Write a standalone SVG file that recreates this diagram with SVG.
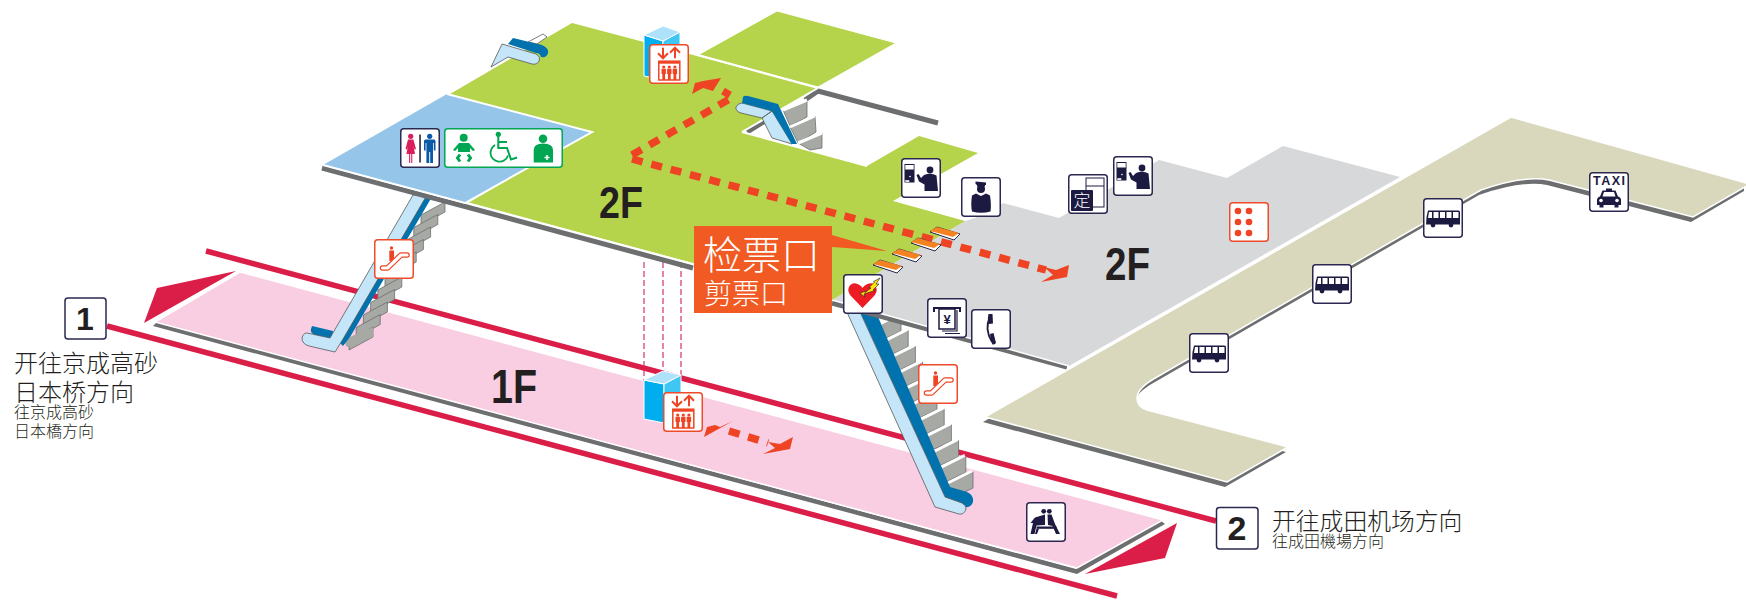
<svg xmlns="http://www.w3.org/2000/svg" width="1746" height="600" viewBox="0 0 1746 600">
<style>
text{font-family:"Noto Sans CJK SC","Liberation Sans",sans-serif;fill:#231f20;font-weight:300}
.flr{font-family:"Liberation Sans",sans-serif;font-weight:700;fill:#231f20}
.fr{fill:#fff;stroke:#2a2850;stroke-width:1.5}
.frr{fill:#fff;stroke:#ef4a2a;stroke-width:1.5}
.n{fill:#1c1a40}
.r{fill:#ef4423}
.g{fill:#00a651}
.rail{fill:none;stroke:#da1e48;stroke-width:5.5}
.edge{fill:none;stroke:#6d6e70;stroke-width:5}
.esL{fill:#c4e6f8;stroke:#58595b;stroke-width:.8}
.esD{fill:#0072ae}
.st{fill:#a7a9a4;stroke:#6d6e70;stroke-width:.8}
.tr{fill:none;stroke:#fff;stroke-width:3}
.dash{fill:none;stroke:#ef4423;stroke-width:7.5;stroke-dasharray:11 9}
.pd{fill:none;stroke:#d6336c;stroke-width:1.2;stroke-dasharray:6 3}
.wl{stroke:#fff;stroke-width:2}
</style>
<defs>
<rect id="frame" class="fr" x=".75" y=".75" width="38.5" height="38.5" rx="3"/>
<rect id="framer" class="frr" x=".75" y=".75" width="38.5" height="38.5" rx="3"/>
<g id="stepR"><polygon class="st" points="0,0 0,16 -25,28 -25,12"/><path class="tr" d="M-25,11L-1,-1"/></g>
<polygon id="stepL" class="st" points="0,0 0,10 -24,23 -24,13"/>
<g id="g-attend">
<use href="#frame"/>
<rect class="n" x="3.500" y="6" width="10" height="18.500"/>
<rect x="4.300" y="7" width="8.400" height="4.500" fill="#fff"/>
<rect x="4.300" y="22.200" width="4" height="1.700" fill="#fff"/>
<circle cx="9" cy="18.500" r=".8" fill="#fff"/>
<circle class="n" cx="29" cy="12" r="3.400"/>
<path class="n" d="M23,17Q30,14.500 35.500,17.500L37,33H23.500L23.500,26.500L18,23.500L15.500,17L17.500,16L20,20Z"/>
</g>
<g id="g-bus">
<use href="#frame"/>
<path class="n" d="M5,12.500H35.500Q37,12.500 37,14V26.500H3L3.500,19Z"/>
<path fill="#fff" d="M6,14H9V20H5ZM10.500,14H15.500V20H10.500ZM17,14H22V20H17ZM23.500,14H28.500V20H23.500ZM30,14H35.500V20H30Z"/>
<circle class="n" cx="10" cy="27" r="2.400"/><circle class="n" cx="28" cy="27" r="2.400"/>
</g>
<g id="g-elev">
<use href="#framer"/>
<path d="M14,3.700V14.300M9,9.300L14,14.300L19,9.300M26,14.300V3.700M21,8.700L26,3.700L31,8.700" fill="none" stroke="#ef4423" stroke-width="2"/>
<rect x="9.800" y="17.200" width="21" height="18.800" fill="#fff" stroke="#ef4423" stroke-width="1.500"/>
<rect class="r" x="9.800" y="17.200" width="21" height="2.500"/>
<g class="r">
<circle cx="14.700" cy="23" r="1.600"/><path d="M12.500,24.800H16.900V30H16.100V36H13.300V30H12.500Z"/>
<circle cx="20.300" cy="23" r="1.600"/><path d="M18.100,24.800H22.500V30H21.700V36H18.900V30H18.100Z"/>
<circle cx="25.900" cy="23" r="1.600"/><path d="M23.700,24.800H28.100V30H27.300V36H24.500V30H23.700Z"/>
</g>
</g>
<g id="g-esc">
<use href="#framer"/>
<circle class="r" cx="17.500" cy="9" r="1.700"/>
<path class="r" d="M15.300,11.500H20V19.500L17.500,22H15.300Z"/>
<path d="M8.500,29H13.500L27,16H33" fill="none" stroke="#ef4423" stroke-width="5.600" stroke-linecap="round" stroke-linejoin="round"/>
<path d="M8.500,29H13.500L27,16H33" fill="none" stroke="#fff" stroke-width="3.200" stroke-linecap="round" stroke-linejoin="round"/>
</g>
</defs>

<g id="connectors">
<path class="rail" d="M206,251L1216,521"/>
<path class="rail" d="M107,326L1117,596"/>
</g>

<g id="floor-1f">
<polygon points="153,326 1077,574 1165,524 1161,521 1076,569 157,322" fill="#6d6e70"/>
<polygon points="240,272 1163,520 1077,568 155,322" fill="#f9cde2" stroke="#fff" stroke-width="1.500"/>
<polygon points="236,271 157,288 144,323" fill="#da1e48"/>
<polygon points="1177,523 1165,558 1085,574" fill="#da1e48"/>
<text class="flr" x="491" y="403" font-size="48" textLength="46" lengthAdjust="spacingAndGlyphs" style="font-family:'Liberation Sans',sans-serif">1F</text>
</g>

<g id="elevator-shaft">
<path class="pd" d="M644,262V381M663,262V372M681,262V376"/>
</g>
<g id="elevator-1f-cube">
<polygon points="644,380 664,384 664,423 644,419" fill="#00aeef" stroke="#fff"/>
<polygon points="664,384 681,375 681,415 664,423" fill="#3fc6f5" stroke="#fff"/>
<polygon points="644,380 663,371 681,375 664,384" fill="#aee2fa" stroke="#fff"/>
</g>

<g id="escalator-left">
<use href="#stepL" x="445" y="202"/><use href="#stepL" x="437.800" y="214.500"/><use href="#stepL" x="430.600" y="227"/><use href="#stepL" x="423.400" y="239.500"/><use href="#stepL" x="416.200" y="252"/><use href="#stepL" x="409" y="264.500"/><use href="#stepL" x="401.800" y="277"/><use href="#stepL" x="394.600" y="289.500"/><use href="#stepL" x="387.400" y="302"/><use href="#stepL" x="380.200" y="314.500"/><use href="#stepL" x="373" y="327"/>
<polygon points="373,327 373,337 347,347 343,340" fill="#a7a9a4"/>
<path class="esD" d="M433,195L350,337L343,346L337,340L425,195ZM312,326L333,331L332,339L315,335Q310,333 311,329Z"/>
<path class="esL" d="M413,195L427,195L343,339L335,352L309,346Q302,344 302,338Q303,333 307,333L330,338Z"/>
</g>

<g id="escalator-right">
<use href="#stepR" x="901" y="315"/><use href="#stepR" x="908.200" y="330.700"/><use href="#stepR" x="915.400" y="346.400"/><use href="#stepR" x="922.600" y="362.100"/><use href="#stepR" x="929.800" y="377.800"/><use href="#stepR" x="937" y="393.500"/><use href="#stepR" x="944.200" y="409.200"/><use href="#stepR" x="951.400" y="424.900"/><use href="#stepR" x="958.600" y="440.600"/><use href="#stepR" x="965.800" y="456.300"/><use href="#stepR" x="973" y="472"/>
<path class="esD" d="M860,312H876L950,487L967,492Q974,495 973,502Q971,508 965,507L945,497Z"/>
<path class="esL" d="M846,310L860,312L945,497L962,503Q967,506 966,509Q964,515 959,514L935,507Z"/>
</g>

<g id="floor-2f-gray">
<path class="edge" d="M832,303L1067,367"/>
<polygon points="975,218 1003,203 1059,218 1159,160 1227,178 1283,146 1400,177 1069,366 832,300 965,221" fill="#d7d8da"/>
<path d="M832,300L1069,366" stroke="#fff" stroke-width="1.500" fill="none"/>
</g>

<g id="platform-beige">
<path transform="translate(-2,5)" fill="#6d6e70" d="M985,417L1511,117L1746,180V186L1693,217L1549,180Q1524,175 1481,190L1157,377Q1137,388 1137,398Q1137,407 1147,410L1288,447L1227,482Z"/>
<path fill="#d9d7bc" stroke="#fff" stroke-width="1.500" d="M985,417L1511,117L1750,184L1693,217L1549,180Q1524,175 1481,190L1157,377Q1137,388 1137,398Q1137,407 1147,410L1288,447L1227,482Z"/>
</g>

<g id="floor-2f-main">
<path class="edge" d="M322,168L693,268"/>
<path class="edge" d="M747,132L765,121M805,100L818,91L938,123"/>
<polygon points="572,23 818,88 742,132 867,166 919,136 978,153 893,201 965,221 832,300 468,203 588,133 450,94" fill="#b5d44c"/>
<polygon points="777,11 896,43 818,87 698,55" fill="#b5d44c" stroke="#fff" stroke-width="1"/>
<path class="wl" d="M698,55L818,88M742,132L867,166M818,88L742,132" fill="none"/>
<polygon points="323,165 447,94 592,132 465,203" fill="#95c6ea"/>
<path class="wl" d="M447,94L592,132L465,203L323,165" fill="none"/>
<path d="M468,203L693,264" stroke="#fff" stroke-width="1.500"/>
<text class="flr" x="599" y="218" font-size="44" textLength="44" lengthAdjust="spacingAndGlyphs" style="font-family:'Liberation Sans',sans-serif">2F</text>
<text class="flr" x="1105" y="280" font-size="46" textLength="45" lengthAdjust="spacingAndGlyphs" style="font-family:'Liberation Sans',sans-serif">2F</text>
</g>

<g id="escalator-top">
<polygon points="528,42 543,34 547,37 537,44" fill="#fff" stroke="#58595b" stroke-width=".8"/>
<path class="esD" d="M513,38L542,45Q549,48 548,53Q547,58 541,57Q540,53 536,53L508,44Z"/>
<path class="esL" d="M491,67L502,44L536,54Q541,57 539,61Q537,65 532,64L508,57Z"/>
</g>

<g id="escalator-middle">
<polygon class="st" points="783,110 807,100 807,117 790,126"/>
<polygon class="st" points="790,127 815,116 816,132 798,143"/>
<polygon class="st" points="798,143 822,133 822,148 810,150"/>
<path class="tr" d="M783,110L807,100M790,127L815,116M798,143L822,133M822,149L830,152"/>
<path class="esL" d="M762,118L772,111L792,144L772,138ZM742,103L772,111L762,118L741,113Q735,111 736,107Q738,103 742,103Z"/>
<path class="esD" d="M743,97Q744,95 748,96L778,104L797,144L792,144L772,111L742,103Z"/>
</g>

<g id="route-arrows">
<path class="dash" d="M632,155L733,97L723,91"/>
<polygon class="r" points="721,78 703,81 695,83 692,94 703,88 713,91"/>
<path class="dash" d="M632,159L1046,270"/>
<polygon class="r" points="1044,267 1056,270 1069,265 1067,277 1041,282 1053,275"/>
<polygon class="r" points="733,421 704,437 707,427 715,425 720,427"/>
<path class="dash" d="M729,431L768,443"/>
<polygon class="r" points="793,437 790,449 763,454 775,448 768,442 780,444"/>
</g>

<g id="gates">
<g id="gate-1"><polygon points="873,265 880,260 903,267 897,273" fill="#fff" stroke="#2a2850"/><polygon points="873,264 880,260 902,266 896,270" fill="#f58220"/></g>
<g id="gate-2"><polygon points="892,254 899,249 922,256 916,262" fill="#fff" stroke="#2a2850"/><polygon points="892,253 899,249 921,255 915,259" fill="#f58220"/></g>
<g id="gate-3"><polygon points="911,243 918,238 941,245 935,251" fill="#fff" stroke="#2a2850"/><polygon points="911,242 918,238 940,244 934,248" fill="#f58220"/></g>
<g id="gate-4"><polygon points="930,232 937,227 960,234 954,240" fill="#fff" stroke="#2a2850"/><polygon points="930,231 937,227 959,233 953,237" fill="#f58220"/></g>
</g>

<g id="ticket-gate-label">
<polygon points="694,226 832,226 832,235 887,251 832,247 832,313 694,313" fill="#f15a22"/>
<text x="703" y="269" font-size="39" style="fill:#fff">检票口</text>
<text x="704" y="304" font-size="28" style="fill:#fff">剪票口</text>
</g>

<g id="elevator-2f-cube">
<polygon points="644,35 663,41 663,80 644,76" fill="#00aeef" stroke="#fff"/>
<polygon points="663,41 680,32 680,60 663,80" fill="#3fc6f5" stroke="#fff"/>
<polygon points="644,35 663,26 680,32 663,41" fill="#aee2fa" stroke="#fff"/>
</g>

<g id="icon-wc" transform="translate(400,128)">
<use href="#frame"/>
<g fill="#da1e5b"><circle cx="10.700" cy="8.300" r="2.600"/><path d="M8,11.500H13.400L16,21L14.500,21.500L13.500,18L15,26H12.300V35H11.200V26H10.200V35H9.100V26H6.400L8,18L7,21.500L5.500,21Z"/></g>
<rect class="n" x="19.300" y="6.500" width="1.500" height="28"/>
<g fill="#0a5aa8"><circle cx="29.700" cy="8.300" r="2.600"/><path d="M25.500,11.500H34Q35.500,11.500 35.500,13V22.500H33.800V15H33V35H30.200V24H29.200V35H26.400V15H25.600V22.500H24V13Q24,11.500 25.500,11.500Z"/></g>
</g>

<g id="icon-accessible" transform="translate(444,128)">
<rect x=".75" y=".75" width="117.500" height="38.500" rx="3" fill="#fff" stroke="#00a651" stroke-width="1.500"/>
<circle class="g" cx="19.700" cy="9.700" r="4"/>
<polygon class="g" points="9,22 15,15 25,15 31,22 29,23 26,20 26,24 14,24 14,20 11,23"/>
<path d="M16,26.500L13.500,30L16,33.500M24,26.500L26.500,30L24,33.500" fill="none" stroke="#00a651" stroke-width="3"/>
<circle class="g" cx="54.300" cy="6.300" r="2.600"/>
<path d="M54.300,8V20H63L67,31.500L73,29.500M54.300,14H63" fill="none" stroke="#00a651" stroke-width="2"/>
<path d="M51,17Q46.500,20 46.500,25.500A9,9 0 0 0 64,27.500" fill="none" stroke="#00a651" stroke-width="1.800"/>
<circle class="g" cx="99" cy="10.700" r="4.300"/>
<path class="g" d="M89.700,22Q89.700,15.500 99,15.500Q109,15.500 109,22V34.500H89.700Z"/>
<path d="M103,27V32M100.500,29.500H105.500" stroke="#fff" stroke-width="1.500"/>
</g>

<g id="icon-elevator-2f" transform="translate(649,44)"><use href="#g-elev"/></g>
<g id="icon-elevator-1f" transform="translate(663,392)"><use href="#g-elev"/></g>
<g id="icon-escalator-left" transform="translate(374,239)"><use href="#g-esc"/></g>
<g id="icon-escalator-right" transform="translate(918,364)"><use href="#g-esc"/></g>
<g id="icon-attendant-1" transform="translate(901,158)"><use href="#g-attend"/></g>
<g id="icon-attendant-2" transform="translate(1113,156)"><use href="#g-attend"/></g>

<g id="icon-staff" transform="translate(961,177)">
<use href="#frame"/>
<path class="n" d="M14.500,4.500L25,5.500V8H24V9.500H16V8L14.500,7Z"/>
<circle class="n" cx="20" cy="12" r="4"/>
<path class="n" d="M15,16.500L20,19L25,16.500L29,18.500Q30.500,28 29.500,34.500Q20,37 11,34.500Q9.500,28 11,18.500Z"/>
</g>

<g id="icon-pass" transform="translate(1068,174)">
<use href="#frame"/>
<rect x="18" y="4" width="18" height="29" fill="#fff" stroke="#1c1a40"/>
<path d="M18,12H36" stroke="#1c1a40"/>
<rect class="n" x="3" y="16" width="22" height="21" rx="1"/>
<text x="14" y="33" font-size="17" text-anchor="middle" style="fill:#fff">定</text>
</g>

<g id="icon-braille" transform="translate(1229,202)">
<use href="#framer"/>
<g class="r"><circle cx="9" cy="9" r="3.300"/><circle cx="20" cy="9" r="3.300"/><circle cx="9" cy="20" r="3.300"/><circle cx="20" cy="20" r="3.300"/><circle cx="9" cy="31" r="3.300"/><circle cx="20" cy="31" r="3.300"/></g>
</g>

<g id="icon-bus-1" transform="translate(1189,333)"><use href="#g-bus"/></g>
<g id="icon-bus-2" transform="translate(1312,264)"><use href="#g-bus"/></g>
<g id="icon-bus-3" transform="translate(1423,198)"><use href="#g-bus"/></g>

<g id="icon-taxi" transform="translate(1589,172)">
<use href="#frame"/>
<text x="4" y="13" font-size="12.500" textLength="32" lengthAdjust="spacing" style="font-family:'Liberation Sans',sans-serif;font-weight:700;fill:#1c1a40">TAXI</text>
<path class="n" d="M17,16.500H23V18.500H26.500L29,24.500Q32,25.500 32,28V33H29.500V35.500H25.500V33H14.500V35.500H10.500V33H8V28Q8,25.500 11,24.500L13.500,18.500H17Z"/>
<path fill="#fff" d="M15,20H25L26.500,24.500H13.500Z"/>
<circle cx="12" cy="28.500" r="1.800" fill="#fff"/><circle cx="28" cy="28.500" r="1.800" fill="#fff"/>
</g>

<g id="icon-aed" transform="translate(843,274)">
<use href="#frame"/>
<path d="M19.500,34L7.500,21.500Q4,17 6,13Q8.500,8.500 13,9.500Q17.500,10.500 19.500,14Q21.500,10.500 26,9.500Q31,8.500 33,13Q35,17 31.500,21.500Z" fill="#ed1c24"/>
<polygon points="37,4 33,10 36,10 30,16 32,16.500 21,20 21,20 22,23 17,19.500 22,17 22,18.500 28,14 26,13.500 31.500,8 30.500,7.500" fill="#ffe600" stroke="#1c1a40" stroke-width=".6"/>
</g>

<g id="icon-atm" transform="translate(927,298)">
<use href="#frame"/>
<path class="n" d="M6,9H34V14H32V11H8V14H6Z"/>
<rect x="12" y="11" width="16" height="20" fill="#fff" stroke="#1c1a40" stroke-width="1.500"/>
<path d="M15,33H30V12M18,35.500H33" fill="none" stroke="#1c1a40" stroke-width="1.200"/>
<text x="20" y="26" font-size="13" text-anchor="middle" style="font-family:'Liberation Sans',sans-serif;font-weight:700;fill:#1c1a40">¥</text>
</g>

<g id="icon-phone" transform="translate(971,309)">
<use href="#frame"/>
<path d="M19,8Q13,20 21,33" fill="none" stroke="#1c1a40" stroke-width="1.800"/>
<path class="n" d="M17.500,5L21.500,5L22,14.500L18,15Q16,13 17.500,5ZM19,25L22.500,24L25,34Q23,36 21.500,35.500Q20,33 19,25Z"/>
</g>

<g id="icon-seats" transform="translate(1026,502)">
<use href="#frame"/>
<circle class="n" cx="17.700" cy="9.300" r="2.400"/><circle class="n" cx="23.300" cy="9.300" r="2.400"/>
<polygon class="n" points="19,12.500 19,23 10.500,23.500 8.500,32 4.500,32 7,21 4.500,21 9,15.500"/>
<polygon class="n" points="21.500,12.500 25.500,12.500 29,22 34,32 30.500,32 26.500,24 22,23"/>
<rect class="n" x="10.500" y="24.500" width="20" height="2.300"/>
<path class="n" d="M10.500,26.800H13L11,32H9ZM28,26.800H30.500L32,32H30Z"/>
</g>

<g id="node-1">
<rect x="65" y="298" width="41" height="41" rx="3" fill="#fff" stroke="#2a2850" stroke-width="1.500"/>
<text x="85" y="330" font-size="32" text-anchor="middle" style="font-family:'Liberation Sans',sans-serif;font-weight:700">1</text>
<text x="14" y="372" font-size="24">开往京成高砂</text>
<text x="14" y="401" font-size="24">日本桥方向</text>
<text x="14" y="418" font-size="16">往京成高砂</text>
<text x="14" y="437" font-size="16">日本橋方向</text>
</g>
<g id="node-2">
<rect x="1216.500" y="507.500" width="41.500" height="41.500" rx="3" fill="#fff" stroke="#2a2850" stroke-width="1.500"/>
<text x="1237" y="540" font-size="34" text-anchor="middle" style="font-family:'Liberation Sans',sans-serif;font-weight:700">2</text>
<text x="1272" y="530" font-size="23.800">开往成田机场方向</text>
<text x="1272" y="547" font-size="16">往成田機場方向</text>
</g>
</svg>
